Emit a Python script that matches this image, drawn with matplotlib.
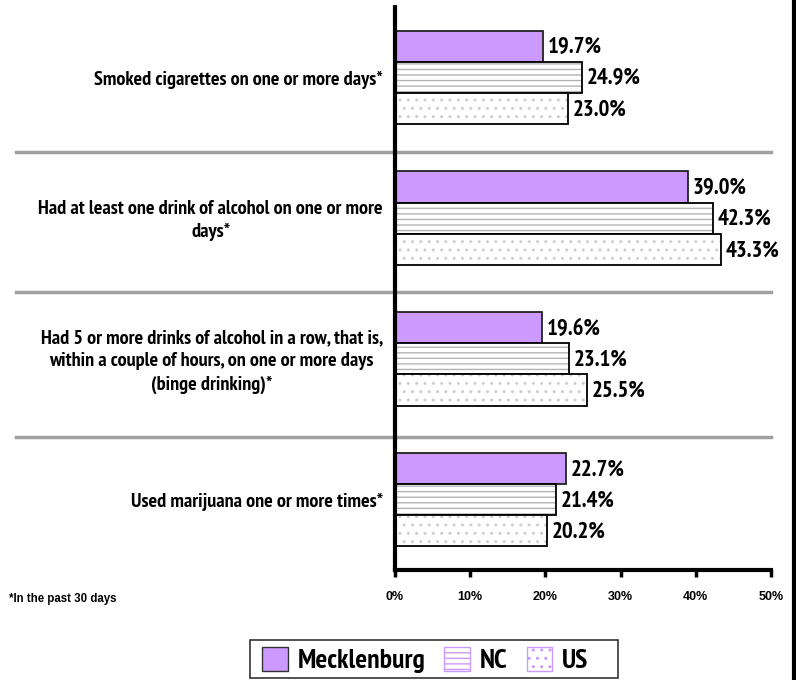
import numpy as np
import matplotlib
matplotlib.use('Agg')
import matplotlib.pyplot as plt
from matplotlib.patches import Patch, Rectangle
from matplotlib.lines import Line2D
from warnings import filterwarnings
filterwarnings('ignore')

## Data
categories = ['Smoked cigarettes on one or more days*',
              'Had at least one drink of alcohol on one or more\ndays*',
              'Had 5 or more drinks of alcohol in a row, that is,\nwithin a couple of hours, on one or more days\n(binge drinking)*',
              'Used marijuana one or more times*']
series = ['Mecklenburg', 'NC', 'US']
mecklenburg = [19.7, 39.0, 19.6, 22.7]
nc = [24.9, 42.3, 23.1, 21.4]
us = [23.0, 43.3, 25.5, 20.2]
xticks = [0, 10, 20, 30, 40, 50]

narrow = ['Liberation Sans Narrow', 'Arial Narrow', 'PT Sans Narrow', 'Fira Sans Condensed',
          'IBM Plex Sans Condensed', 'Archivo Narrow', 'Liberation Sans', 'DejaVu Sans']
regular = ['Liberation Sans', 'DejaVu Sans']
plt.rcParams['font.family'] = regular
plt.rcParams['font.weight'] = 'bold'
plt.rcParams['hatch.linewidth'] = 1.0

fig = plt.figure(figsize=(7.96, 6.8), dpi=100)
ax = fig.add_axes([395/796, 1 - 570/680, 376/796, 563/680])

purple = '#cc99ff'
h = 0.222
y = np.arange(len(categories)) + 0.5
styles = [(mecklenburg, purple, None, None),
          (nc, 'white', '---', '#b4b4b4'),
          (us, 'white', '..', '#cfcfcf')]
for k, (vals, fc, hatch, hc) in enumerate(styles):
    pos = y + (k - 1) * h
    if hatch:
        ax.barh(pos, vals, height=h, color=fc, hatch=hatch, edgecolor=hc, linewidth=0)
        ax.barh(pos, vals, height=h, fill=False, edgecolor='black', linewidth=1.3)
    else:
        ax.barh(pos, vals, height=h, color=fc, edgecolor='#222222', linewidth=1.3)
    for p, v in zip(pos, vals):
        ax.text(v + 0.6, p + 0.01, '%.1f%%' % v, va='center', ha='left',
                fontsize=16.5, fontweight='bold', family=narrow)

ax.set_ylim(4, 0)
ax.set_xlim(0, 50)
ax.set_yticks([])
ax.set_xticks(xticks)
ax.set_xticklabels(['%d%%' % t for t in xticks], fontsize=9, fontweight='bold')
ax.tick_params(axis='x', length=5, width=2.5, pad=10)
for s in ['top', 'right']:
    ax.spines[s].set_visible(False)
ax.spines['left'].set_linewidth(3)
ax.spines['bottom'].set_linewidth(3)

## separators between groups, running out into the label area
for sy in [1.03, 2.025, 3.055]:
    ax.plot([-50.4, 50], [sy, sy], color='#a0a0a0', linewidth=2.5, clip_on=False, zorder=0)

for yy, lab in zip(y, categories):
    ax.text(-1.6, yy + 0.02, lab, ha='right', va='center', multialignment='center',
            fontsize=14.6, fontweight='bold', linespacing=1.35, family=narrow)

fig.text(9/796, 1 - 599/680, '*In the past 30 days', fontsize=8.3, fontweight='bold', va='center')

## right border line
fig.add_artist(Line2D([794/796, 794/796], [0, 1], color='black', linewidth=3))

## legend box
fig.add_artist(Rectangle((250/796, 1 - 678/680), 368/796, 38/680, transform=fig.transFigure,
                         fill=False, edgecolor='#333333', linewidth=1.2))
handles = [Patch(facecolor=purple, edgecolor='#333333'),
           Patch(facecolor='white', edgecolor='#cc99ff', hatch='---'),
           Patch(facecolor='white', edgecolor='#cc99ff', hatch='..')]
leg = fig.legend(handles, series, loc='center left', bbox_to_anchor=(262/796, 1 - 660/680),
                 ncol=3, frameon=False,
                 prop={'size': 20, 'weight': 'bold', 'family': narrow},
                 handlelength=0.92, handleheight=0.95,
                 handletextpad=0.35, columnspacing=0.7, borderpad=0.0, borderaxespad=0.0)

fig.savefig('out.png', dpi=100)
